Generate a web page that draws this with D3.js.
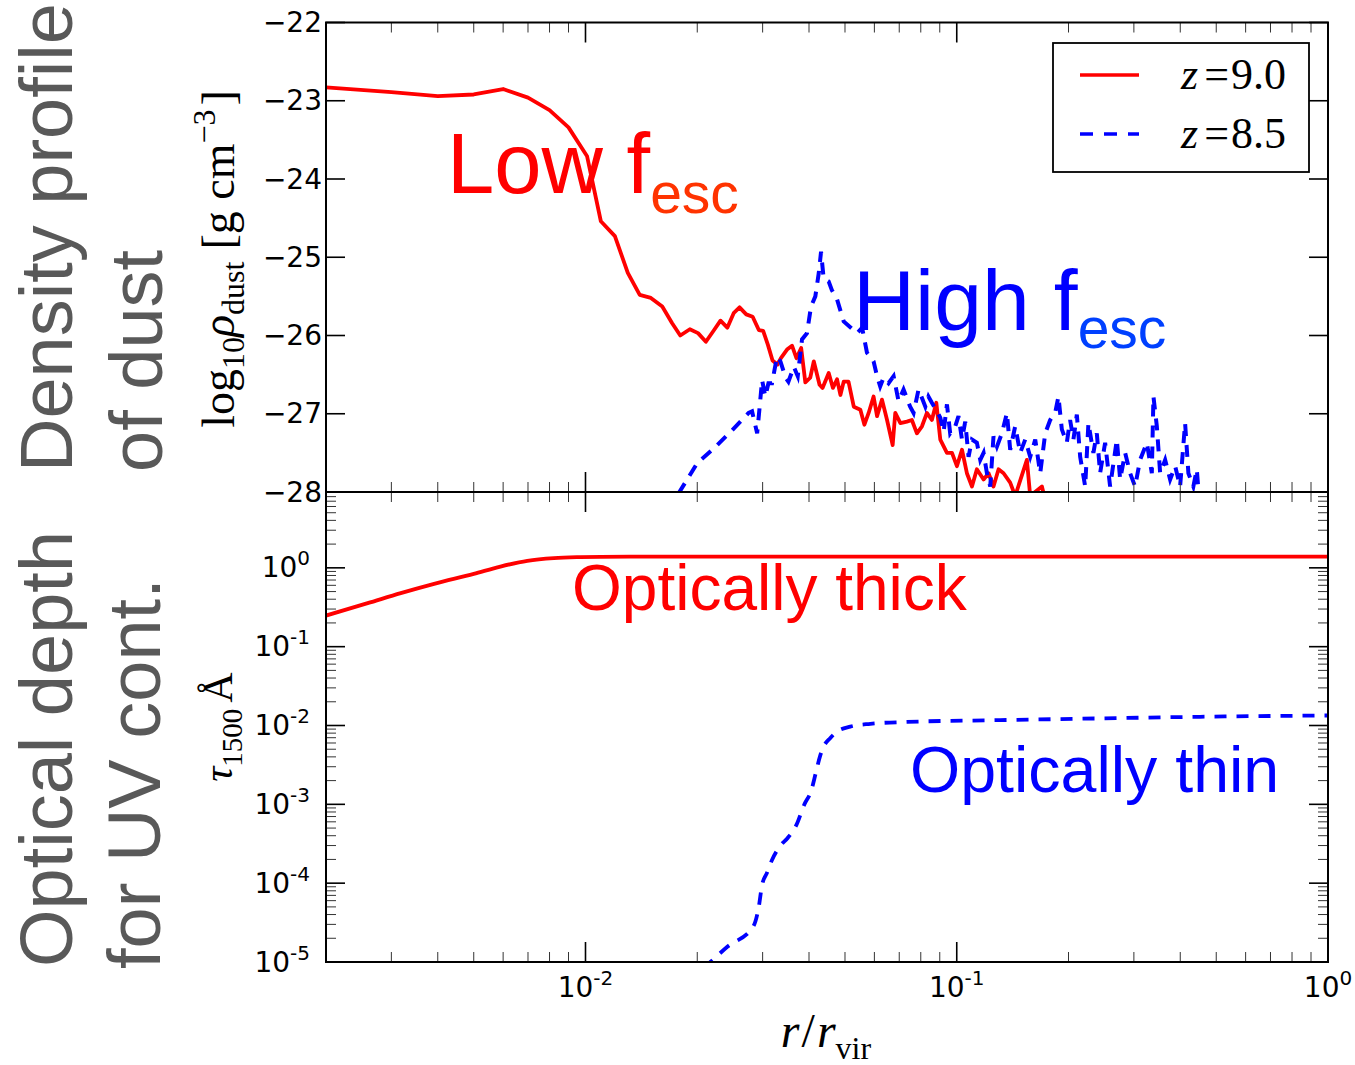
<!DOCTYPE html>
<html>
<head>
    <title></title>
    <meta charset="utf-8">
    <style>
        body { margin: 0; background: #fff; }
    </style>
</head>
<body>
<script src="https://d3js.org/d3.v7.min.js"></script>
<script>
    // density profile, z=9.0 (red) and z=8.5 (blue)
    var rRed = [0.002,0.0030,0.0040,0.0050,0.0060,0.0070,0.0080,0.0090,0.0101,0.0110,
        0.0120,0.0130,0.0140,0.0150,0.0161,0.0171,0.0180,0.0191,0.0201,0.0211,
        0.0222,0.0231,0.0241,0.0251,0.0260,0.0271,0.0282,0.0293,0.0301,0.0310,
        0.0319,0.0329,0.0336,0.0349,0.0360,0.0370,0.0381,0.0391,0.0403,0.0412,
        0.0427,0.0435,0.0452,0.0464,0.0476,0.0486,0.0496,0.0511,0.0528,0.0550,
        0.0564,0.0579,0.0597,0.0610,0.0629,0.0649,0.0672,0.0683,0.0705,0.0734,
        0.0757,0.0781,0.0806,0.0831,0.0857,0.0881,0.0903,0.0941,0.0971,0.1001,
        0.1033,0.1065,0.1099,0.1133,0.1181,0.1218,0.1256,0.1296,0.1337,0.1393,
        0.1437,0.1545,0.1577,0.1696,0.1731];
    var rhoRed = [-22.83,-22.89,-22.94,-22.92,-22.85,-22.96,-23.12,-23.34,-23.71,-24.54,
        -24.73,-25.20,-25.48,-25.52,-25.63,-25.84,-26.00,-25.92,-25.97,-26.08,
        -25.93,-25.81,-25.90,-25.71,-25.64,-25.73,-25.76,-25.93,-25.94,-26.12,
        -26.32,-26.37,-26.29,-26.18,-26.13,-26.29,-26.16,-26.60,-26.54,-26.33,
        -26.63,-26.67,-26.48,-26.67,-26.56,-26.76,-26.59,-26.59,-26.91,-26.95,
        -27.14,-26.99,-26.78,-27.03,-26.82,-27.08,-27.40,-26.99,-27.12,-27.10,
        -27.08,-27.25,-27.16,-26.99,-27.08,-26.86,-27.33,-27.50,-27.50,-27.67,
        -27.46,-27.76,-27.93,-27.71,-27.84,-27.76,-27.93,-27.71,-27.76,-27.88,
        -28.05,-27.59,-28.05,-27.93,-28.10];

    var rBlue = [0.0178,0.0200,0.0222,0.0246,0.0275,0.0281,0.0290,0.0294,0.0299,0.0305,
        0.0311,0.0318,0.0328,0.0335,0.0346,0.0352,0.0364,0.0373,0.0383,0.0395,
        0.0405,0.0416,0.0425,0.0431,0.0438,0.0452,0.0461,0.0476,0.0496,0.0539,
        0.0556,0.0573,0.0597,0.0610,0.0622,0.0635,0.0655,0.0676,0.0697,0.0719,
        0.0749,0.0765,0.0789,0.0806,0.0823,0.0839,0.0857,0.0885,0.0903,0.0922,
        0.0941,0.0960,0.0991,0.1011,0.1033,0.1054,0.1076,0.1099,0.1133,0.1157,
        0.1181,0.1206,0.1231,0.1256,0.1283,0.1323,0.1365,0.1393,0.1437,0.1482,
        0.1529,0.1577,0.1627,0.1678,0.1731,0.1785,0.1841,0.1879,0.1919,0.1979,
        0.2020,0.2062,0.2106,0.2150,0.2218,0.2263,0.2334,0.2384,0.2433,0.2510,
        0.2589,0.2699,0.2755,0.2842,0.2931,0.3023,0.3118,0.3251,0.3353,0.3387,
        0.3459,0.3531,0.3642,0.3756,0.3875,0.3996,0.4122,0.4207,0.4338,0.4432,0.4477];
    var rhoBlue = [-28.02,-27.63,-27.44,-27.23,-26.99,-26.97,-27.25,-26.95,-26.57,-26.78,
        -26.61,-26.61,-26.27,-26.33,-26.54,-26.59,-26.40,-26.52,-26.05,-25.97,
        -25.63,-25.50,-25.20,-24.93,-25.27,-25.31,-25.42,-25.54,-25.82,-25.97,
        -25.90,-26.22,-26.33,-26.52,-26.65,-26.54,-26.61,-26.52,-26.84,-26.69,
        -26.91,-26.99,-26.69,-26.80,-26.91,-26.78,-26.86,-26.97,-27.05,-27.23,
        -26.88,-27.25,-27.16,-27.03,-27.33,-27.10,-27.55,-27.33,-27.37,-27.59,
        -27.50,-27.76,-27.93,-27.29,-27.42,-27.25,-26.99,-27.46,-27.16,-27.50,
        -27.33,-27.55,-27.33,-27.76,-27.25,-27.08,-26.99,-26.78,-27.20,-27.37,
        -27.08,-27.33,-27.01,-27.55,-27.93,-27.12,-27.50,-27.25,-27.76,-27.37,
        -27.93,-27.33,-27.84,-27.50,-27.76,-27.93,-27.59,-27.37,-27.76,-26.78,
        -27.16,-27.76,-27.59,-27.84,-27.67,-27.93,-27.12,-27.76,-27.93,-27.71,-27.98];

    // optical depth at 1500 A
    var rTauRed = [0.002,0.00259,0.00318,0.00391,0.0050,0.0059,0.00697,0.00822,0.0097,0.011,
        0.02,0.05,0.1,0.2,0.5,1.0];
    var tauRed = [0.248,0.356,0.478,0.627,0.840,1.038,1.227,1.328,1.367,1.38,
        1.39,1.39,1.39,1.39,1.39,1.39];
    var rTauBlue = [0.0208,0.0217,0.0241,0.0283,0.0293,0.0299,0.0308,0.0318,0.0336,0.0350,
        0.0370,0.0388,0.0406,0.0417,0.0428,0.0438,0.0456,0.0476,0.0517,0.0585,
        0.0735,0.131,0.243,0.452,1.0];
    var tauBlue = [8.4e-6,1.0e-5,1.56e-5,2.81e-5,5.04e-5,9.5e-5,1.34e-4,1.97e-4,3.05e-4,3.72e-4,
        5.48e-4,9.8e-4,1.52e-3,2.48e-3,4.03e-3,5.40e-3,6.90e-3,8.38e-3,9.68e-3,1.05e-2,
        1.11e-2,1.17e-2,1.23e-2,1.29e-2,1.34e-2];

    var rhoTicks = [-22, -23, -24, -25, -26, -27, -28];
    var tauTickExp = [0, -1, -2, -3, -4, -5];
    var xTickExp = [-2, -1, 0];
    var legendLabels = ['9.0', '8.5'];

    var box = { left: 326, right: 1328, top: 22.5, mid: 492, bottom: 962 };
    var red = '#ff0000', blue = '#0000ff', grey = '#595959';
    var sans = '"Liberation Sans", Arial, sans-serif';
    var serif = '"Liberation Serif", "Times New Roman", serif';
    var tickFont = '"DejaVu Sans", sans-serif';

    var svg = d3.select('body').append('svg')
        .attr('width', 1355)
        .attr('height', 1065);

    var x = d3.scaleLog().domain([0.002, 1]).range([box.left, box.right]);
    var yTop = d3.scaleLinear().domain([-28, -22]).range([box.mid, box.top]);
    var yBot = d3.scaleLog().domain([1e-5, 10]).range([box.bottom, 489]);

    var isPow10 = function (v) {
        var l = Math.log10(v);
        return Math.abs(l - Math.round(l)) < 1e-6;
    };

    // clip paths
    var defs = svg.append('defs');
    defs.append('clipPath').attr('id', 'clipTop').append('rect')
        .attr('x', box.left).attr('y', box.top)
        .attr('width', box.right - box.left).attr('height', box.mid - box.top);
    defs.append('clipPath').attr('id', 'clipBot').append('rect')
        .attr('x', box.left).attr('y', box.mid)
        .attr('width', box.right - box.left).attr('height', box.bottom - box.mid);

    // data lines
    var lineTop = d3.line().x(function (d) { return x(d[0]); }).y(function (d) { return yTop(d[1]); });
    var lineBot = d3.line().x(function (d) { return x(d[0]); }).y(function (d) { return yBot(d[1]); });

    var gTop = svg.append('g').attr('clip-path', 'url(#clipTop)');
    gTop.append('path')
        .datum(d3.zip(rRed, rhoRed))
        .attr('d', lineTop)
        .attr('fill', 'none').attr('stroke', red).attr('stroke-width', 3.8)
        .attr('stroke-linejoin', 'round');
    gTop.append('path')
        .datum(d3.zip(rBlue, rhoBlue))
        .attr('d', lineTop)
        .attr('fill', 'none').attr('stroke', blue).attr('stroke-width', 4)
        .attr('stroke-dasharray', '12,9');

    var gBot = svg.append('g').attr('clip-path', 'url(#clipBot)');
    gBot.append('path')
        .datum(d3.zip(rTauRed, tauRed))
        .attr('d', lineBot.curve(d3.curveMonotoneX))
        .attr('fill', 'none').attr('stroke', red).attr('stroke-width', 3.8);
    gBot.append('path')
        .datum(d3.zip(rTauBlue, tauBlue))
        .attr('d', lineBot)
        .attr('fill', 'none').attr('stroke', blue).attr('stroke-width', 3.8)
        .attr('stroke-dasharray', '12,10');

    // ticks
    var ticks = svg.append('g');
    var tick = function (x1, y1, x2, y2, major) {
        ticks.append('line')
            .attr('x1', x1).attr('y1', y1).attr('x2', x2).attr('y2', y2)
            .attr('stroke', major ? '#000' : '#333')
            .attr('stroke-width', major ? 1.6 : 1);
    };

    x.ticks().forEach(function (v) {
        var px = x(v);
        if (px <= box.left + 1 || px >= box.right - 1) return;
        var len = isPow10(v) ? 20 : 10;
        var major = isPow10(v);
        tick(px, box.top, px, box.top + len, major);
        tick(px, box.mid, px, box.mid - len, major);
        tick(px, box.mid, px, box.mid + len, major);
        tick(px, box.bottom, px, box.bottom - len, major);
    });

    rhoTicks.forEach(function (v) {
        var py = yTop(v);
        tick(box.left, py, box.left + 19, py, true);
        tick(box.right, py, box.right - 19, py, true);
    });

    yBot.ticks().forEach(function (v) {
        var py = yBot(v);
        if (py < box.mid + 1 || py > box.bottom - 1) return;
        var major = isPow10(v);
        var len = major ? 19 : 10;
        tick(box.left, py, box.left + len, py, major);
        tick(box.right, py, box.right - len, py, major);
    });

    // frames
    [[box.top, box.mid], [box.mid, box.bottom]].forEach(function (p) {
        svg.append('rect')
            .attr('x', box.left).attr('y', p[0])
            .attr('width', box.right - box.left).attr('height', p[1] - p[0])
            .attr('fill', 'none').attr('stroke', '#000').attr('stroke-width', 2);
    });

    // tick labels
    rhoTicks.forEach(function (v) {
        svg.append('text')
            .attr('x', 322).attr('y', yTop(v) + 9.5)
            .attr('text-anchor', 'end')
            .attr('font-family', tickFont).attr('font-size', 28)
            .text('\u2212' + Math.abs(v));
    });

    var powLabel = function (px, py, anchor, e) {
        var t = svg.append('text')
            .attr('x', px).attr('y', py)
            .attr('text-anchor', anchor)
            .attr('font-family', tickFont).attr('font-size', 28);
        t.append('tspan').text('10');
        t.append('tspan').attr('font-size', 20).attr('dy', -12).text(String(e));
    };
    tauTickExp.forEach(function (e) {
        powLabel(310, yBot(Math.pow(10, e)) + 9.5, 'end', e);
    });
    xTickExp.forEach(function (e) {
        powLabel(x(Math.pow(10, e)), 997, 'middle', e);
    });

    // axis labels
    var yl1 = svg.append('text')
        .attr('transform', 'translate(234,259) rotate(-90)')
        .attr('text-anchor', 'middle')
        .attr('font-family', serif).attr('font-size', 46);
    yl1.append('tspan').text('log');
    yl1.append('tspan').attr('font-size', 32).attr('dy', 10).text('10');
    yl1.append('tspan').attr('font-style', 'italic').attr('dy', -10).text('\u03c1');
    yl1.append('tspan').attr('font-size', 32).attr('dy', 10).text('dust');
    yl1.append('tspan').attr('dy', -10).attr('dx', 12).text('[g cm');
    yl1.append('tspan').attr('font-size', 32).attr('dy', -19).text('\u22123');
    yl1.append('tspan').attr('dy', 19).attr('dx', 4).text(']');

    var yl2 = svg.append('text')
        .attr('transform', 'translate(232,727) rotate(-90)')
        .attr('text-anchor', 'middle')
        .attr('font-family', serif).attr('font-size', 42);
    yl2.append('tspan').attr('font-style', 'italic').text('\u03c4');
    yl2.append('tspan').attr('font-size', 29).attr('dy', 10).text('1500');
    yl2.append('tspan').attr('dy', -10).attr('dx', 6).text('\u00c5');

    var xl = svg.append('text')
        .attr('x', 826).attr('y', 1047)
        .attr('text-anchor', 'middle')
        .attr('font-family', serif).attr('font-size', 48);
    xl.append('tspan').attr('font-style', 'italic').text('r');
    xl.append('tspan').attr('dx', 2).text('/');
    xl.append('tspan').attr('font-style', 'italic').attr('dx', 2).text('r');
    xl.append('tspan').attr('font-size', 32).attr('dy', 12).text('vir');

    // big grey side titles
    var side = [
        { text: 'Density profile', x: 72, y: 472 },
        { text: 'of dust', x: 162, y: 472 },
        { text: 'Optical depth', x: 72, y: 967 },
        { text: 'for UV cont.', x: 160, y: 969 }
    ];
    side.forEach(function (s) {
        svg.append('text')
            .attr('transform', 'translate(' + s.x + ',' + s.y + ') rotate(-90)')
            .attr('text-anchor', 'start')
            .attr('font-family', sans).attr('font-size', 74)
            .attr('fill', grey)
            .text(s.text);
    });

    // annotations
    var note = function (txt, sub, px, py, dy, col, subCol, size) {
        var t = svg.append('text')
            .attr('x', px).attr('y', py)
            .attr('font-family', sans).attr('font-size', size)
            .attr('fill', col);
        t.append('tspan').text(txt);
        if (sub) t.append('tspan').attr('font-size', 57).attr('dy', dy).attr('fill', subCol).text(sub);
    };
    note('Low f', 'esc', 447, 193, 20, red, '#ff3300', 85);
    note('High f', 'esc', 853, 330, 18, blue, '#0040ff', 86);
    note('Optically thick', null, 572, 610, 0, red, red, 64);
    note('Optically thin', null, 910, 792, 0, blue, blue, 64.5);

    // legend
    var leg = svg.append('g');
    leg.append('rect')
        .attr('x', 1053).attr('y', 43).attr('width', 256).attr('height', 129)
        .attr('fill', '#fff').attr('stroke', '#000').attr('stroke-width', 1.8);
    legendLabels.forEach(function (lab, i) {
        var ly = 75 + i * 59;
        leg.append('line')
            .attr('x1', 1080).attr('x2', 1139).attr('y1', ly).attr('y2', ly)
            .attr('stroke', i ? blue : red).attr('stroke-width', 3.5)
            .attr('stroke-dasharray', i ? '13,11' : null);
        var t = leg.append('text')
            .attr('x', 1181).attr('y', ly + 14)
            .attr('font-family', serif).attr('font-size', 44);
        t.append('tspan').attr('font-style', 'italic').text('z');
        t.append('tspan').attr('dx', 6).text('=');
        t.append('tspan').attr('dx', 2).text(lab);
    });
</script>
</body>
</html>
